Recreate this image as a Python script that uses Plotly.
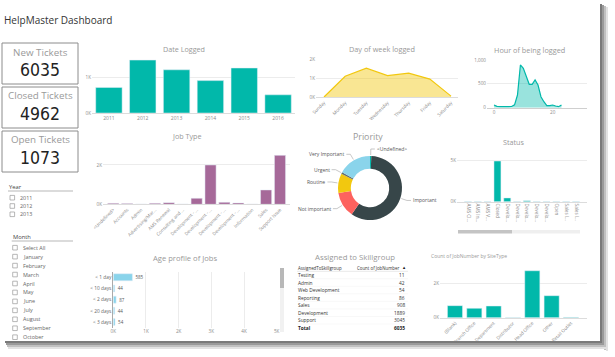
import math
import plotly.graph_objects as go

W, H = 615, 357
def X(px): return px / W
def Y(py): return 1 - py / H

FONT = "Open Sans, Noto Sans, sans-serif"
NUMFONT = "Liberation Sans Narrow, DejaVu Sans Condensed, Open Sans, sans-serif"

# ---------------- data ----------------
kpi_labels = ["New Tickets", "Closed Tickets", "Open Tickets"]
kpi_values = [6035, 4962, 1073]

years = ["2011", "2012", "2013", "2014", "2015", "2016"]
date_logged = [710, 1470, 1200, 900, 1250, 505]

days = ["Sunday", "Monday", "Tuesday", "Wednesday", "Thursday", "Friday", "Saturday"]
day_counts = [15, 1100, 1520, 1130, 1260, 950, 60]

hours = list(range(24))
hour_counts = [56, 28, 22, 18, 20, 22, 25, 60, 266, 896, 826, 651, 490, 490, 581, 476,
               231, 126, 42, 42, 56, 35, 21, 56]

job_types = ["<Undefined>", "Accounts", "Admin", "Advertising/Mar...", "AMS Renewal",
             "Consulting and ...", "Development - ...", "Development - ...",
             "Development - ...", "Development - ...", "Information", "Sales", "Support Issue"]
job_counts = [50, 35, 15, 50, 85, 15, 305, 2000, 100, 70, 10, 730, 2490]

prio_labels = ["<Undefined>", "Important", "Not important", "Routine", "Urgent", "Very Important"]
prio_values = [40, 3533, 771, 587, 50, 1006]
prio_colors = ["#01B8AA", "#374649", "#FD625E", "#F2C80F", "#5F6B6D", "#8AD4EB"]

status_labels = ["AMS Cl...", "AMS In...", "AMS V...", "Closed", "Develo...", "Develo...",
                 "Develo...", "Develo...", "Develo...", "Open", "Sales I...", "Sales I..."]
status_counts = [20, 15, 10, 4962, 460, 15, 120, 20, 25, 30, 20, 15]

age_labels = ["< 1 day", "< 10 days", "< 2 days", "< 20 days", "< 3 days"]
age_counts = [585, 44, 87, 44, 54]

skill_groups = ["Testing", "Admin", "Web Development", "Reporting", "Sales", "Development", "Support"]
skill_counts = [11, 42, 54, 86, 908, 1889, 3045]

site_types = ["(Blank)", "Branch Office", "Department", "Distributor", "Head Office", "Other", "Retail Outlet"]
site_counts = [700, 545, 680, 15, 2730, 1280, 20]

slicer_years = ["2011", "2012", "2013"]
slicer_months = ["Select All", "January", "February", "March", "April", "May", "June",
                 "July", "August", "September", "October"]

TEAL = "#01B8AA"
PURPLE = "#A66999"
GRID = "#ececec"
TCOL = "#8a8a8a"
TICK = dict(size=4.6, color=TCOL, family=FONT)

layout = dict(width=W, height=H, margin=dict(l=0, r=0, t=0, b=0, pad=0, autoexpand=False),
              paper_bgcolor="white", plot_bgcolor="white", showlegend=False,
              font=dict(family=FONT), hovermode=False)
shapes, annotations = [], []


def axes(n, xd, yd, xa=None, ya=None):
    s = "" if n == 1 else str(n)
    base = dict(showgrid=False, zeroline=False, showline=False, ticks="",
                tickfont=TICK, fixedrange=True, automargin=False)
    xdict = dict(base, domain=[X(xd[0]), X(xd[1])], anchor="y" + s)
    ydict = dict(base, domain=[Y(yd[1]), Y(yd[0])], anchor="x" + s)
    xdict.update(xa or {})
    ydict.update(ya or {})
    layout["xaxis" + s] = xdict
    layout["yaxis" + s] = ydict
    return "x" + s, "y" + s


def text(x, y, t, size, color="#999", xanchor="center", family=FONT, **kw):
    annotations.append(dict(x=X(x), y=Y(y), xref="paper", yref="paper", text=t,
                            showarrow=False, xanchor=xanchor, yanchor="middle",
                            borderpad=0,
                            font=dict(size=size, color=color, family=family), **kw))


def rect(x0, y0, x1, y1, line=None, fill=None, lw=1):
    shapes.append(dict(type="rect", xref="paper", yref="paper",
                       x0=X(x0), x1=X(x1), y0=Y(y1), y1=Y(y0),
                       line=dict(color=line or "rgba(0,0,0,0)", width=lw if line else 0),
                       fillcolor=fill or "rgba(0,0,0,0)", layer="above"))


def line(x0, y0, x1, y1, color, w=1):
    shapes.append(dict(type="line", xref="paper", yref="paper",
                       x0=X(x0), x1=X(x1), y0=Y(y0), y1=Y(y1),
                       line=dict(color=color, width=w), layer="above"))


traces = []

# ---------------- Date Logged ----------------
xa, ya = axes(1, (92, 295), (55.4, 113),
              dict(type="category", range=[-0.5, 5.5], showline=True, linecolor="#dcdcdc",
                   tickfont=dict(size=5, color=TCOL, family=FONT)),
              dict(range=[0, 1600], tickvals=[0, 1000], ticktext=["0K", "1K"],
                   showgrid=True, gridcolor=GRID))
traces.append(go.Bar(x=years, y=date_logged, marker_color=TEAL, width=0.78, xaxis=xa, yaxis=ya))
text(184, 49, "Date Logged", 7.2)

# ---------------- Day of week ----------------
xa, ya = axes(2, (316, 458), (59, 97.3),
              dict(type="category", range=[-0.378, 6.33], tickangle=-45,
                   showline=True, linecolor="#dcdcdc"),
              dict(range=[0, 2000], tickvals=[0, 1000, 2000], ticktext=["0K", "1K", "2K"],
                   showgrid=True, gridcolor=GRID))
traces.append(go.Scatter(x=days, y=day_counts, mode="lines", fill="tozeroy",
                         line=dict(color="#F2C80F", width=1.2),
                         fillcolor="rgba(242,200,15,0.45)", xaxis=xa, yaxis=ya))
text(382, 49, "Day of week logged", 7.3)

# ---------------- Hour ----------------
xa, ya = axes(3, (487, 587), (60, 107.7),
              dict(range=[-2.39, 31.7], tickvals=[0, 20], showline=True, linecolor="#cfcfcf"),
              dict(range=[0, 1000], tickvals=[0, 500, 1000], ticktext=["0", "500", "1,000"],
                   showgrid=True, gridcolor=GRID))
traces.append(go.Scatter(x=hours, y=hour_counts, mode="lines", fill="tozeroy",
                         line=dict(color=TEAL, width=1.2),
                         fillcolor="rgba(1,184,170,0.4)", xaxis=xa, yaxis=ya))
text(529, 50, "Hour of being logged", 7.3)

# ---------------- Job Type ----------------
job_idx = list(range(len(job_types)))
xa, ya = axes(4, (103, 290), (150, 204.3),
              dict(range=[-0.74, 12.72], tickvals=job_idx, ticktext=job_types, tickangle=-45,
                   showline=True, linecolor="#dcdcdc"),
              dict(range=[0, 2763], tickvals=[0, 2000], ticktext=["0K", "2K"],
                   showgrid=True, gridcolor=GRID))
traces.append(go.Bar(x=job_idx, y=job_counts, marker_color=PURPLE, width=0.8, xaxis=xa, yaxis=ya))
text(187, 136, "Job Type", 7.2)

# ---------------- Status ----------------
st_idx = list(range(len(status_labels)))
xa, ya = axes(5, (457, 587), (150, 201.7),
              dict(range=[-1.12, 12.12], tickvals=st_idx, ticktext=status_labels, tickangle=90,
                   showline=True, linecolor="#dcdcdc"),
              dict(range=[0, 6305], tickvals=[0, 5000], ticktext=["0K", "5K"],
                   showgrid=True, gridcolor=GRID))
traces.append(go.Bar(x=st_idx, y=status_counts, marker_color=TEAL, width=0.71, xaxis=xa, yaxis=ya))
text(513, 142, "Status", 7.2)
rect(458, 230, 512, 233.5, fill="#c4c4c4")
rect(512, 230, 580, 233.5, fill="#efefef")

# ---------------- Age profile ----------------
xa, ya = axes(6, (113.3, 276.7), (271.7, 327.6),
              dict(range=[0, 5000], tickvals=[0, 1000, 2000, 3000, 4000, 5000],
                   ticktext=["0K", "1K", "2K", "3K", "4K", "5K"],
                   showgrid=True, gridcolor=GRID),
              dict(type="category", autorange="reversed", showline=True, linecolor="#aaaaaa",
                   tickfont=dict(size=4.8, color="#666", family=FONT)))
traces.append(go.Bar(y=age_labels, x=age_counts, orientation="h", marker_color="#8AD4EB",
                     width=0.63, text=age_counts, textposition="outside", cliponaxis=False,
                     textfont=dict(size=4.5, color="#555", family=FONT), xaxis=xa, yaxis=ya))
text(185, 258, "Age profile of Jobs", 7.6)
rect(280, 268, 284, 288, fill="#b8b8b8")
rect(280, 288, 284, 332, fill="#f1f1f1")

# ---------------- SiteType ----------------
xa, ya = axes(7, (440, 587), (268, 317.7),
              dict(type="category", range=[-0.775, 6.83], tickangle=-45,
                   showline=True, linecolor="#dcdcdc"),
              dict(range=[0, 2890], tickvals=[0, 2000], ticktext=["0K", "2K"],
                   showgrid=True, gridcolor=GRID))
traces.append(go.Bar(x=site_types, y=site_counts, marker_color=TEAL, width=0.78, xaxis=xa, yaxis=ya))
text(430, 256, "Count of JobNumber by SiteType", 5, xanchor="left")

# ---------------- Priority donut ----------------
cx, cy, R = 370, 188, 32
traces.append(go.Pie(labels=prio_labels, values=prio_values, hole=0.6, sort=False,
                     direction="clockwise", rotation=0, textinfo="none",
                     marker=dict(colors=prio_colors, line=dict(width=0)),
                     domain=dict(x=[X(cx - R), X(cx + R)], y=[Y(cy + R), Y(cy - R)])))
text(368, 137, "Priority", 8.8)
tot = sum(prio_values)
cum = 0
for lab, v in zip(prio_labels, prio_values):
    a = math.radians((cum + v / 2) / tot * 360)
    cum += v
    s, c = math.sin(a), math.cos(a)
    p0 = (cx + (R + 1) * s, cy - (R + 1) * c)
    p1 = (cx + (R + 7) * s, cy - (R + 7) * c)
    if s >= 0:
        p2 = (p1[0] + 4, p1[1])
        text(p2[0] + 1, p2[1], lab, 5, "#555", xanchor="left")
    else:
        p2 = (p1[0] - 4, p1[1])
        text(p2[0] - 1, p2[1], lab, 5, "#555", xanchor="right")
    line(p0[0], p0[1], p1[0], p1[1], "#b0b0b0", 0.7)
    line(p1[0], p1[1], p2[0], p2[1], "#b0b0b0", 0.7)

# ---------------- Skillgroup table ----------------
text(355, 257, "Assigned to Skillgroup", 7.8)
TL, TR = 297, 408
text(TL, 267.7, "AssignedToSkillgroup", 4.4, "#333", xanchor="left")
text(TR - 8, 267.7, "Count of JobNumber", 4.4, "#333", xanchor="right")
text(TR - 1, 267.5, "&#9650;", 4.2, "#222", xanchor="right")
line(TL, 271.3, TR, 271.3, "#d8d8d8", 0.6)
row_y = 275
for g, v in zip(skill_groups, skill_counts):
    text(TL, row_y, g, 4.8, "#333", xanchor="left")
    text(TR - 2, row_y, str(v), 4.8, "#333", xanchor="right")
    line(TL, row_y + 3.7, TR, row_y + 3.7, "#f0f0f0", 0.5)
    row_y += 7.55
text(TL, row_y, "<b>Total</b>", 4.8, "#222", xanchor="left")
text(TR - 2, row_y, "<b>%d</b>" % sum(skill_counts), 4.8, "#222", xanchor="right")

# ---------------- Title & KPI cards ----------------
text(3, 20, "HelpMaster Dashboard", 10, "#333", xanchor="left")
for i, (lab, val) in enumerate(zip(kpi_labels, kpi_values)):
    top = 43 + i * 44
    rect(2, top, 78, top + 41, line="#8c8c8c", lw=1)
    text(40, top + 9, lab, 9.8, "#9a9a9a")
    text(40, top + 27, str(val), 17.5, "#222", family=NUMFONT)

# ---------------- Slicers ----------------
text(8, 187, "Year", 5.8, "#444", xanchor="left")
line(8, 191, 73, 191, "#cfcfcf", 1.5)
for i, yv in enumerate(slicer_years):
    yy = 197.7 + i * 8.3
    rect(10, yy - 2.3, 14.6, yy + 2.3, line="#9a9a9a", lw=0.7)
    text(19.3, yy, yv, 5.4, "#666", xanchor="left")
text(11.7, 237, "Month", 5.8, "#444", xanchor="left")
line(11.7, 241, 73, 241, "#cfcfcf", 1.5)
for i, m in enumerate(slicer_months):
    yy = 247.7 + i * 8.95
    rect(12.7, yy - 2.3, 17.3, yy + 2.3, line="#9a9a9a", lw=0.7)
    text(21.7, yy, m, 5.4, "#666", xanchor="left")

# ---------------- frame shadows ----------------
for k, col in enumerate(["#7a7a7a", "#9a9a9a", "#c0c0c0", "#e2e2e2"]):
    rect(600 + 2 * k, 4 + k, 602 + 2 * k, 348 + k, fill=col)
    rect(5 + k, 341 + 2 * k, 600 + 2 * k, 343 + 2 * k, fill=col)

layout["shapes"] = shapes
layout["annotations"] = annotations
fig = go.Figure(data=traces, layout=layout)
fig.write_html("out.html", config=dict(displayModeBar=False, staticPlot=True),
               post_script="document.body.style.margin='0px';document.body.style.overflow='hidden';")
